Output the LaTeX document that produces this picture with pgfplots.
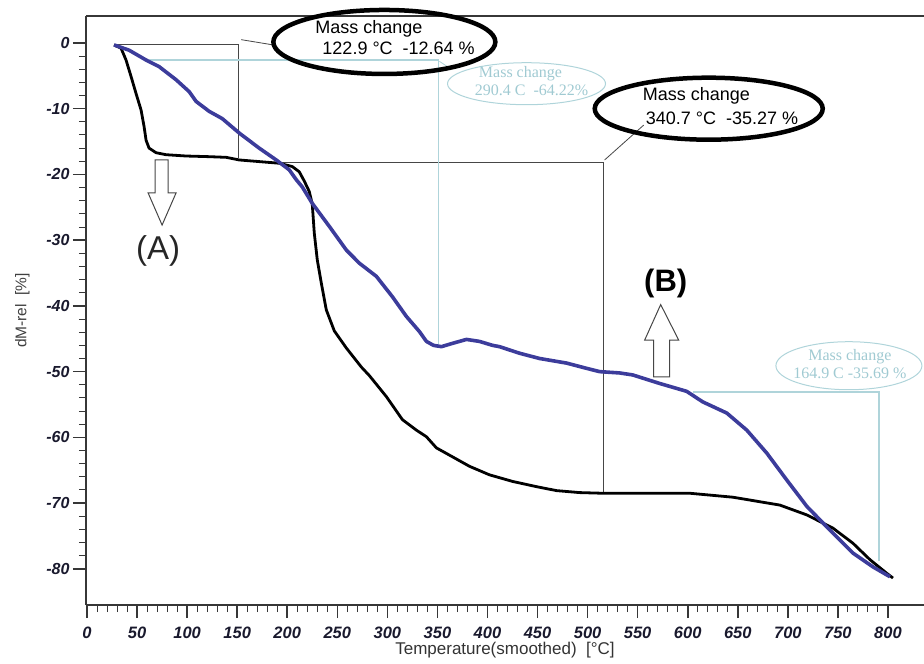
\documentclass[border=0pt]{standalone}
\usepackage{fontspec}
\setmainfont{Liberation Sans}
\newfontfamily\seriffont{Liberation Serif}
\usepackage{pgfplots}
\pgfplotsset{compat=1.18}

\definecolor{tgablue}{RGB}{60,60,155}
\definecolor{annlight}{RGB}{160,202,210}
\definecolor{annlightline}{RGB}{175,212,218}
\definecolor{anndark}{RGB}{70,70,70}
\definecolor{ticktext}{RGB}{25,25,45}
\definecolor{axisgray}{RGB}{55,55,55}

\begin{document}
\begin{tikzpicture}
\begin{axis}[
  scale only axis, width=838pt, height=589pt,
  xmin=-1, xmax=836, ymin=-85.5, ymax=4.1,
  axis x line*=bottom, axis y line*=left,
  axis line style={-, draw=axisgray, line width=1.3pt},
  tick align=outside,
  xtick={0,50,...,800}, ytick={-80,-70,...,0},
  minor x tick num=4, minor y tick num=4,
  major tick length=13pt, minor tick length=7pt,
  major tick style={draw=axisgray, line width=1.6pt},
  minor tick style={draw=axisgray, line width=1pt},
  /pgf/number format/assume math mode=true,
  xticklabel style={font=\fontsize{16.5}{16.5}\selectfont\bfseries\itshape, text=ticktext, yshift=-5pt},
  yticklabel style={font=\fontsize{16}{16}\selectfont\bfseries\itshape, text=ticktext},
  xlabel={Temperature(smoothed)\ \ [°C]},
  ylabel={dM-rel\ \ [\%]},
  xlabel style={font=\fontsize{17}{17}\selectfont, text=black!80, yshift=3pt},
  ylabel style={font=\fontsize{15.5}{15.5}\selectfont, text=black!75, yshift=10pt},
  clip=false,
]

% frame line along the top of the plot area
\draw[draw=axisgray, line width=1.1pt] (axis cs:-1,4.1) -- (axis cs:836,4.1);

% step evaluation of the black curve
\draw[anndark, line width=1.1pt] (axis cs:30,-0.3) -- (axis cs:151,-0.3) -- (axis cs:151,-17.5);
\draw[anndark, line width=1.1pt] (axis cs:172,-18.2) -- (axis cs:516,-18.2) -- (axis cs:516,-68.5);
\draw[anndark, line width=0.8pt] (axis cs:154,0.5) -- (axis cs:186,-0.3);
\draw[anndark, line width=0.8pt] (axis cs:517,-17.8) -- (axis cs:556,-12.5);

% step evaluation of the blue curve
\draw[annlightline, line width=1.1pt] (axis cs:62,-2.6) -- (axis cs:351,-2.6) -- (axis cs:351,-46.0);
\draw[annlightline, line width=0.8pt] (axis cs:352,-2.8) -- (axis cs:362,-3.8);
\draw[annlightline, line width=1.1pt] (axis cs:605,-53.1) -- (axis cs:791,-53.1) -- (axis cs:791,-78.8);

% TG curves
\addplot[black, line width=2.8pt, line join=round] coordinates {
(27,-0.3)(34,-0.8)(39,-2.6)(44,-5.1)(49,-7.7)(54,-10.2)(57,-12.7)(59,-14.8)
(62,-16.0)(69,-16.7)(79,-17.0)(99,-17.2)(122,-17.3)(139,-17.4)(152,-17.8)
(172,-18.05)(192,-18.3)(205,-18.8)(212,-19.6)(217,-21.0)(222,-22.6)(225,-24.5)
(227,-28.9)(230,-33.0)(234,-36.5)(239,-40.6)(247,-43.8)(259,-46.4)(274,-49.3)
(282,-50.6)(299,-53.8)(315,-57.3)(329,-58.9)(339,-59.9)(349,-61.6)(362,-62.7)
(382,-64.4)(402,-65.7)(425,-66.7)(449,-67.5)(469,-68.1)(492,-68.4)(515,-68.5)
(560,-68.5)(602,-68.5)(645,-69.1)(692,-70.3)(719,-71.8)(745,-73.8)(765,-76.1)
(782,-78.6)(799,-80.7)(805,-81.4)
};
\addplot[tgablue, line width=3.6pt, line join=round] coordinates {
(27,-0.3)(42,-1.1)(59,-2.6)(72,-3.6)(89,-5.6)(102,-7.4)(109,-8.9)(122,-10.4)
(135,-11.5)(152,-13.7)(172,-16.0)(189,-17.8)(202,-19.3)(209,-20.8)(215,-21.9)
(225,-24.4)(242,-27.9)(259,-31.5)(272,-33.5)(289,-35.5)(305,-38.6)(319,-41.6)
(332,-43.9)(339,-45.4)(346,-46.0)(354,-46.2)(365,-45.7)(379,-45.1)(392,-45.4)
(405,-46.0)(412,-46.2)(432,-47.2)(452,-48.0)(479,-48.7)(499,-49.5)(512,-50.0)
(532,-50.2)(545,-50.5)(572,-51.8)(599,-53.0)(615,-54.6)(639,-56.3)(659,-58.9)
(679,-62.4)(699,-66.5)(719,-70.5)(742,-74.1)(765,-77.6)(785,-79.7)(802,-81.2)
};

% highlighted result boxes
\draw[black, line width=4.5pt] (axis cs:297,0.15) ellipse [x radius=111pt, y radius=32pt];
\node[anchor=west, font=\fontsize{18}{18}\selectfont, text=black, inner sep=0pt] at (axis cs:228,2.1) {Mass change};
\node[anchor=west, font=\fontsize{18}{18}\selectfont, text=black, inner sep=0pt] at (axis cs:235,-0.8) {122.9 °C\ \ -12.64 \%};

\draw[black, line width=4.5pt] (axis cs:621,-10.0) ellipse [x radius=114pt, y radius=31pt];
\node[anchor=west, font=\fontsize{18}{18}\selectfont, text=black, inner sep=0pt] at (axis cs:555,-8.1) {Mass change};
\node[anchor=west, font=\fontsize{18}{18}\selectfont, text=black, inner sep=0pt] at (axis cs:558,-11.4) {340.7 °C\ \ -35.27 \%};

\draw[annlightline, line width=1pt] (axis cs:439,-6.2) ellipse [x radius=79pt, y radius=21pt];
\node[font=\seriffont\fontsize{16}{16}\selectfont, text=annlight, inner sep=0pt] at (axis cs:433,-4.7) {Mass change};
\node[font=\seriffont\fontsize{16}{16}\selectfont, text=annlight, inner sep=0pt] at (axis cs:444,-7.2) {290.4 C\ \ -64.22\%};

\draw[annlightline, line width=1pt] (axis cs:761,-49.1) ellipse [x radius=73pt, y radius=24pt];
\node[font=\seriffont\fontsize{16}{16}\selectfont, text=annlight, inner sep=0pt] at (axis cs:762,-47.8) {Mass change};
\node[font=\seriffont\fontsize{16}{16}\selectfont, text=annlight, inner sep=0pt] at (axis cs:762,-50.3) {164.9 C -35.69 \%};

% hollow arrows marking the two samples
\draw[anndark, line width=1pt, fill=white] (axis cs:68,-17.8) -- (axis cs:81,-17.8) -- (axis cs:81,-22.8)
  -- (axis cs:89,-22.8) -- (axis cs:75,-27.7) -- (axis cs:61,-22.8) -- (axis cs:68,-22.8) -- cycle;
\node[font=\fontsize{33}{33}\selectfont, text=black!85] at (axis cs:71,-31.6) {(A)};

\draw[anndark, line width=1pt, fill=white] (axis cs:566,-50.8) -- (axis cs:582,-50.8) -- (axis cs:582,-45.2)
  -- (axis cs:591,-45.2) -- (axis cs:573,-39.8) -- (axis cs:557,-45.2) -- (axis cs:566,-45.2) -- cycle;
\node[font=\fontsize{31}{31}\selectfont\bfseries, text=black] at (axis cs:578,-36.6) {(B)};
\end{axis}
\pgfresetboundingbox
\useasboundingbox (-86pt,-59pt) rectangle (838pt,605pt);
\end{tikzpicture}
\end{document}
